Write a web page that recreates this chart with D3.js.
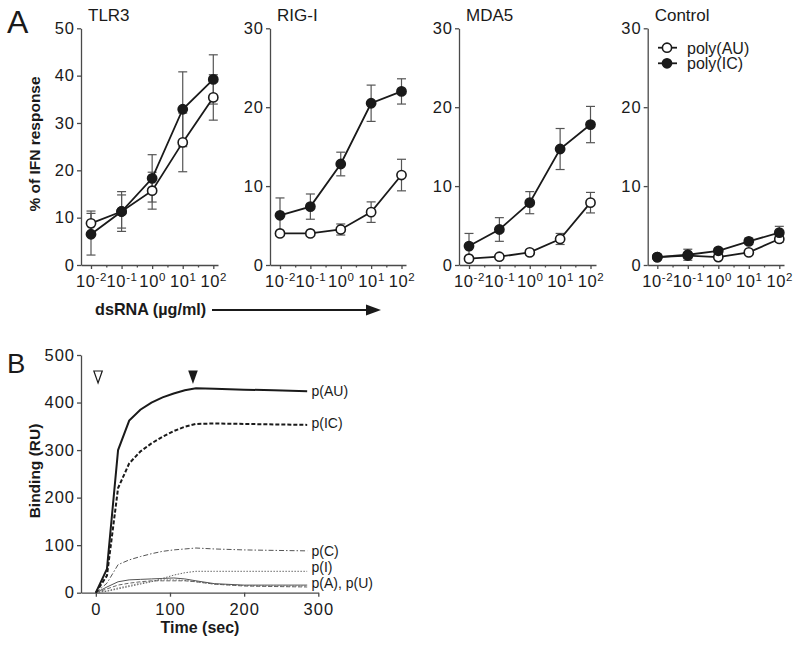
<!DOCTYPE html>
<html><head><meta charset="utf-8">
<script src="https://cdn.jsdelivr.net/npm/d3@7"></script>
<style>
html,body{margin:0;padding:0;background:#fff;}
svg{display:block;font-family:"Liberation Sans",Arial,sans-serif;}
</style></head>
<body><svg id="c" width="800" height="646"></svg>
<script>
// ---------- Panel A data ----------
const concentrations = [0.01, 0.1, 1, 10, 100];
const xTickExponents = [-2, -1, 0, 1, 2];
const panelTitles = ["TLR3", "RIG-I", "MDA5", "Control"];
const panelYMax = [50, 30, 30, 30];
const tlr3AU = [8.8, 11.3, 15.7, 25.9, 35.4];
const tlr3AUerr = [2.6, 4.2, 3.9, 6.2, 4.8];
const tlr3IC = [6.5, 11.3, 18.3, 32.9, 39.2];
const tlr3ICerr = [4.4, 3.5, 5.0, 7.9, 5.2];
const rigAU = [4.0, 4.0, 4.5, 6.7, 11.4];
const rigAUerr = [0.2, 0.2, 0.7, 1.3, 2.0];
const rigIC = [6.3, 7.4, 12.8, 20.5, 22.0];
const rigICerr = [2.2, 1.6, 1.5, 2.3, 1.6];
const mdaAU = [0.8, 1.05, 1.6, 3.3, 7.9];
const mdaAUerr = [0.2, 0.2, 0.3, 0.7, 1.3];
const mdaIC = [2.4, 4.5, 7.9, 14.7, 17.8];
const mdaICerr = [1.6, 1.5, 1.4, 2.6, 2.3];
const ctlAU = [1.0, 1.2, 1.0, 1.6, 3.3];
const ctlAUerr = [0.2, 0.3, 0.2, 0.2, 0.4];
const ctlIC = [1.0, 1.3, 1.8, 3.0, 4.1];
const ctlICerr = [0.2, 0.7, 0.3, 0.4, 0.8];
const legendLabels = ["poly(AU)", "poly(IC)"];

// ---------- Panel B data ----------
const timeSec = [0, 15, 30, 45, 60, 75, 90, 105, 120, 135, 160, 200, 240, 285];
const bindAU = [0, 50, 300, 362, 385, 400, 411, 419, 426, 430, 429, 427, 426, 424];
const bindIC = [0, 36, 220, 272, 297, 314, 328, 340, 349, 355, 356, 355, 354, 353];
const bindC  = [0, 20, 59, 69, 76, 82, 87, 90, 92, 94, 92, 90, 89, 88];
const bindI  = [0, 3, 8, 13, 18, 23, 30, 37, 42, 45, 45, 45, 45, 45];
const bindA  = [0, 12, 23, 27, 28, 29, 30, 31, 29, 25, 19, 16, 16, 16];
const bindU  = [0, 8, 16, 20, 23, 25, 25, 25, 25, 23, 18, 14, 13, 12];
const bindU2 = [0, 4, 10, 15, 20, 24, 27, 27, 26, 23, 18, 15, 14, 14];
const bYTicks = [0, 100, 200, 300, 400, 500];
const bXTicks = [0, 100, 200, 300];
const injectStart = 3, injectEnd = 131;

const svg = d3.select("#c");
const INK = "#1a1a1a", AXIS = "#4a4a4a", ERR = "#555";
const TICK_FS = 16.5, TICK_LS = 1.0;

const panelSeries = [
  [[tlr3AU, tlr3AUerr], [tlr3IC, tlr3ICerr]],
  [[rigAU, rigAUerr], [rigIC, rigICerr]],
  [[mdaAU, mdaAUerr], [mdaIC, mdaICerr]],
  [[ctlAU, ctlAUerr], [ctlIC, ctlICerr]]
];
// layout: y-axis x, first tick x, last tick x, axis end x
const layout = [
  [81, 91, 213.3, 218],
  [270, 280, 401.5, 406],
  [459, 469, 590.5, 596],
  [647.7, 657.3, 779.3, 784]
];
const yTop = 28.3, yBottom = 265;

svg.append("text").attr("x", 7).attr("y", 33).attr("font-size", 32).attr("fill", INK).text("A");

panelTitles.forEach((title, i) => {
  const [ax, t0, t1, xEnd] = layout[i];
  const dec = (t1 - t0) / 4;
  const lo = Math.pow(10, -2 - (t0 - ax) / dec), hi = Math.pow(10, 2 + (xEnd - t1) / dec);
  const x = d3.scaleLog().domain([lo, hi]).range([ax, xEnd]);
  const y = d3.scaleLinear().domain([0, panelYMax[i]]).range([yBottom, yTop]);
  const g = svg.append("g");

  // x axis
  const xa = g.append("g").attr("transform", `translate(0,${yBottom})`)
    .call(d3.axisBottom(x).tickValues(concentrations).tickSize(4).tickSizeOuter(0).tickPadding(3));
  g.append("g").attr("transform", `translate(0,${yBottom})`)
    .call(d3.axisBottom(x).tickValues(xTickExponents.slice(0, 4).map(e => Math.pow(10, e + 0.5))).tickSize(2.5).tickSizeOuter(0).tickFormat(""))
    .call(s => s.select(".domain").remove());
  xa.selectAll(".tick text").each(function(d, k) {
    const t = d3.select(this).text("").attr("font-size", TICK_FS).attr("fill", INK).attr("dy", "0.88em").attr("letter-spacing", 0.6);
    t.append("tspan").text("10");
    t.append("tspan").attr("dy", "-0.5em").attr("font-size", 11.5).text(String(xTickExponents[k]));
  });
  // y axis
  const ya = g.append("g").attr("transform", `translate(${ax},0)`)
    .call(d3.axisLeft(y).ticks(panelYMax[i] / 10).tickSize(4).tickSizeOuter(0).tickPadding(2));
  ya.selectAll(".tick text").attr("font-size", TICK_FS).attr("fill", INK).attr("letter-spacing", TICK_LS);
  g.selectAll(".domain, .tick line").attr("stroke", AXIS).attr("stroke-width", 1.3);

  g.append("text").attr("x", ax + 7).attr("y", 21).attr("font-size", 17).attr("fill", INK).text(title);

  const line = d3.line().x((d, k) => x(concentrations[k])).y(d => y(d));
  panelSeries[i].forEach(([vals, errs]) => {
    const eg = g.append("g").attr("stroke", ERR).attr("stroke-width", 1.2);
    vals.forEach((v, k) => {
      const cx = x(concentrations[k]);
      eg.append("line").attr("x1", cx).attr("x2", cx).attr("y1", y(v - errs[k])).attr("y2", y(v + errs[k]));
      [v - errs[k], v + errs[k]].forEach(e => eg.append("line").attr("x1", cx - 4.5).attr("x2", cx + 4.5).attr("y1", y(e)).attr("y2", y(e)));
    });
  });
  panelSeries[i].forEach(([vals]) => {
    g.append("path").attr("d", line(vals)).attr("fill", "none").attr("stroke", INK).attr("stroke-width", 1.8);
  });
  panelSeries[i].forEach(([vals], s) => {
    g.selectAll(null).data(vals).enter().append("circle")
      .attr("cx", (d, k) => x(concentrations[k])).attr("cy", d => y(d)).attr("r", 4.6)
      .attr("fill", s === 0 ? "#fff" : INK).attr("stroke", INK).attr("stroke-width", 1.6);
  });

  if (i === 3) {
    legendLabels.forEach((lab, s) => {
      const ly = 47.7 + s * 15.6;
      g.append("line").attr("x1", 658).attr("x2", 677).attr("y1", ly).attr("y2", ly).attr("stroke", INK).attr("stroke-width", 1.8);
      g.append("circle").attr("cx", 667).attr("cy", ly).attr("r", 4.6).attr("fill", s === 0 ? "#fff" : INK).attr("stroke", INK).attr("stroke-width", 1.6);
      g.append("text").attr("x", 687).attr("y", ly + 5.8).attr("font-size", 16).attr("fill", INK).text(lab);
    });
  }
});

svg.append("text").attr("transform", "translate(40,144) rotate(-90)").attr("text-anchor", "middle")
  .attr("font-size", 15.5).attr("font-weight", "bold").attr("fill", INK).text("% of IFN response");
svg.append("text").attr("x", 95).attr("y", 314.5).attr("font-size", 16.2).attr("font-weight", "bold").attr("fill", INK).text("dsRNA (µg/ml)");
svg.append("line").attr("x1", 212).attr("x2", 368).attr("y1", 310).attr("y2", 310).attr("stroke", INK).attr("stroke-width", 2);
svg.append("path").attr("d", "M366,304.5L381,310L366,315.5Z").attr("fill", INK);

// ---------- Panel B ----------
svg.append("text").attr("x", 7).attr("y", 372.5).attr("font-size", 27.5).attr("fill", INK).text("B");
const bx = d3.scaleLinear().domain([-20, 300]).range([81, 318.3]);
const by = d3.scaleLinear().domain([0, 500]).range([592.7, 355]);
const gb = svg.append("g");
const bxa = gb.append("g").attr("transform", "translate(0,592.7)")
  .call(d3.axisBottom(bx).tickValues(bXTicks).tickSize(4).tickSizeOuter(0).tickPadding(4));
const bya = gb.append("g").attr("transform", "translate(81,0)")
  .call(d3.axisLeft(by).tickValues(bYTicks).tickSize(4).tickSizeOuter(0).tickPadding(2));
gb.selectAll(".tick text").attr("font-size", TICK_FS).attr("fill", INK).attr("letter-spacing", TICK_LS);
bxa.selectAll(".tick text").attr("dy", "0.85em");
gb.selectAll(".domain, .tick line").attr("stroke", AXIS).attr("stroke-width", 1.3);

const bSeries = [
  {v: bindU2, c: "#777", w: 0.9, dash: "1.5,1.5"},
  {v: bindU, c: "#555", w: 0.9, dash: "4,2"},
  {v: bindA, c: "#555", w: 1.0, dash: null},
  {v: bindI, c: "#666", w: 1.0, dash: "1.5,1.5"},
  {v: bindC, c: "#555", w: 1.0, dash: "5,2,1.5,2"},
  {v: bindIC, c: INK, w: 2.0, dash: "4,2"},
  {v: bindAU, c: INK, w: 2.0, dash: null}
];
const bLine = d3.line().x((d, k) => bx(timeSec[k])).y(d => by(d));
bSeries.forEach(s => {
  gb.append("path").attr("d", bLine(s.v)).attr("fill", "none").attr("stroke", s.c)
    .attr("stroke-width", s.w).attr("stroke-dasharray", s.dash);
});
const bLabels = [["p(AU)", 395.5], ["p(IC)", 427.5], ["p(C)", 556], ["p(I)", 571.5], ["p(A), p(U)", 588]];
bLabels.forEach(([t, yy]) => gb.append("text").attr("x", 311.5).attr("y", yy).attr("font-size", 14).attr("fill", INK).text(t));

const sx = bx(injectStart), ex = bx(injectEnd);
gb.append("path").attr("d", `M${sx - 4.2},371L${sx + 4.2},371L${sx},383Z`).attr("fill", "#fff").attr("stroke", INK).attr("stroke-width", 1.2);
gb.append("path").attr("d", `M${ex - 4.8},370.5L${ex + 4.8},370.5L${ex},384Z`).attr("fill", INK);

svg.append("text").attr("transform", "translate(40,471) rotate(-90)").attr("text-anchor", "middle")
  .attr("font-size", 15.5).attr("font-weight", "bold").attr("fill", INK).text("Binding (RU)");
svg.append("text").attr("x", 200).attr("y", 633).attr("text-anchor", "middle")
  .attr("font-size", 16).attr("font-weight", "bold").attr("fill", INK).text("Time (sec)");
</script></body></html>
